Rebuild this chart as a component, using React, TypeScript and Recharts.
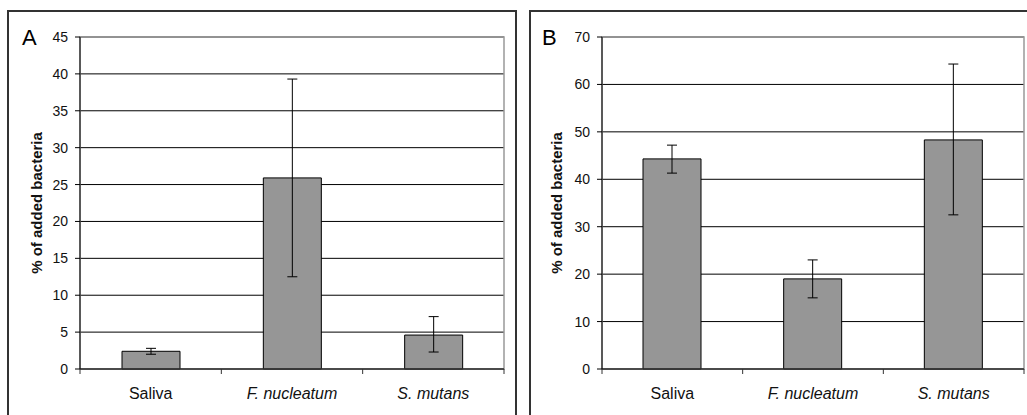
import React from "react";
import {
  BarChart,
  Bar,
  XAxis,
  YAxis,
  CartesianGrid,
  ErrorBar,
  ReferenceArea,
} from "recharts";

const categories = ["Saliva", "F. nucleatum", "S. mutans"];
const italicCats = [false, true, true];

const meanA = [2.4, 25.9, 4.6];
const lowA = [2.0, 12.5, 2.3];
const highA = [2.8, 39.3, 7.1];
const ticksA = [0, 5, 10, 15, 20, 25, 30, 35, 40, 45];

const meanB = [44.3, 19.0, 48.3];
const lowB = [41.3, 15.0, 32.5];
const highB = [47.2, 23.0, 64.3];
const ticksB = [0, 10, 20, 30, 40, 50, 60, 70];

const yLabel = "% of added bacteria";

const buildRows = (mean: number[], low: number[], high: number[]) =>
  categories.map((c, i) => ({
    name: c,
    value: mean[i],
    err: [mean[i] - low[i], high[i] - mean[i]],
  }));

const dataA = buildRows(meanA, lowA, highA);
const dataB = buildRows(meanB, lowB, highB);

const FONT = "'Liberation Sans', Arial, Helvetica, sans-serif";

const makeXTick = (step: number) => (props: any) => {
  const { x, y, payload, index } = props;
  const idx = categories.indexOf(payload.value);
  return (
    <g>
      <line x1={x - step / 2} y1={y} x2={x - step / 2} y2={y + 5} stroke="#333" strokeWidth={1} />
      {index === categories.length - 1 && (
        <line x1={x + step / 2} y1={y} x2={x + step / 2} y2={y + 5} stroke="#333" strokeWidth={1} />
      )}
      <text
        x={x}
        y={y + 30}
        textAnchor="middle"
        fontFamily={FONT}
        fontSize={16}
        fontStyle={italicCats[idx] ? "italic" : "normal"}
        fill="#111"
      >
        {payload.value}
      </text>
    </g>
  );
};

const YLabelContent = (props: any) => {
  const { viewBox } = props;
  const cx = viewBox.x + 41.5;
  const cy = viewBox.y + viewBox.height / 2;
  return (
    <text
      x={cx}
      y={cy}
      transform={`rotate(-90, ${cx}, ${cy})`}
      textAnchor="middle"
      fontFamily={FONT}
      fontSize={15}
      fontWeight="bold"
      fill="#111"
    >
      {yLabel}
    </text>
  );
};

type PanelProps = {
  data: any[];
  ticks: number[];
  width: number;
  yAxisWidth: number;
  rightMargin: number;
  plotWidth: number;
};

const Panel = ({ data, ticks, width, yAxisWidth, rightMargin, plotWidth }: PanelProps) => {
  const max = ticks[ticks.length - 1];
  return (
    <BarChart
      width={width}
      height={415}
      data={data}
      margin={{ top: 37, right: rightMargin, left: 0, bottom: 16 }}
      barSize={58}
    >
      <CartesianGrid horizontal vertical={false} stroke="#000" strokeWidth={1} />
      <ReferenceArea y1={0} y2={max} stroke="#999" strokeWidth={1.5} fill="none" fillOpacity={0} />
      <XAxis
        dataKey="name"
        height={30}
        axisLine={{ stroke: "#333", strokeWidth: 1.5 }}
        tickLine={false}
        tickSize={0}
        tickMargin={0}
        interval={0}
        tick={makeXTick(plotWidth / categories.length)}
      />
      <YAxis
        width={yAxisWidth}
        domain={[0, max]}
        ticks={ticks}
        interval={0}
        axisLine={{ stroke: "#000", strokeWidth: 1 }}
        tickLine={{ stroke: "#000", strokeWidth: 1 }}
        tickSize={5}
        tickMargin={7}
        tick={{ fontFamily: FONT, fontSize: 14, fill: "#111" }}
        label={<YLabelContent />}
      />
      <Bar dataKey="value" fill="#969696" stroke="#000" strokeWidth={1} isAnimationActive={false}>
        <ErrorBar dataKey="err" width={5} stroke="#000" strokeWidth={1} direction="y" />
      </Bar>
    </BarChart>
  );
};

const PanelLetter = ({ letter, left }: { letter: string; left: number }) => (
  <div
    style={{
      position: "absolute",
      left,
      top: 25,
      fontFamily: FONT,
      fontSize: 22,
      lineHeight: "26px",
      color: "#000",
    }}
  >
    {letter}
  </div>
);

export default function App() {
  return (
    <div
      style={{
        position: "absolute",
        left: 0,
        top: 0,
        width: 1027,
        height: 415,
        overflow: "hidden",
        background: "#fff",
      }}
    >
      <div
        style={{
          position: "absolute",
          left: 7,
          top: 10,
          width: 506,
          height: 430,
          border: "2px solid #333",
        }}
      />
      <div
        style={{
          position: "absolute",
          left: 529,
          top: 10,
          width: 520,
          height: 430,
          border: "2px solid #333",
        }}
      />
      <div style={{ position: "absolute", left: 0, top: 0 }}>
        <Panel data={dataA} ticks={ticksA} width={520} yAxisWidth={80} rightMargin={16} plotWidth={424} />
      </div>
      <div style={{ position: "absolute", left: 520, top: 0 }}>
        <Panel data={dataB} ticks={ticksB} width={507} yAxisWidth={82} rightMargin={3} plotWidth={422} />
      </div>
      <PanelLetter letter="A" left={22} />
      <PanelLetter letter="B" left={542} />
    </div>
  );
}
